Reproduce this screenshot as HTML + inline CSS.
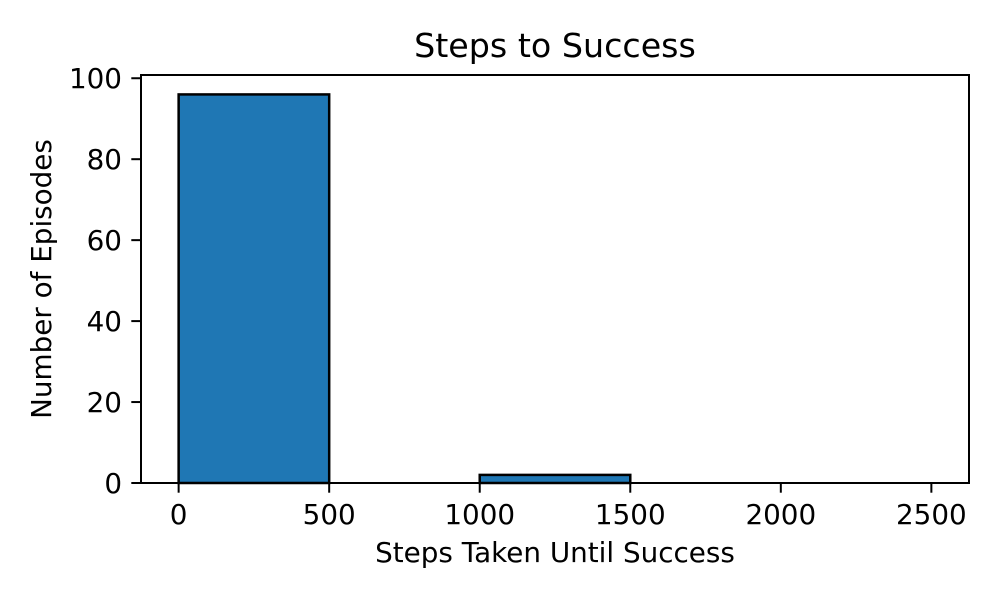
<!DOCTYPE html>
<html><head><meta charset="utf-8"><style>
html,body{margin:0;padding:0;background:#fff;}
svg text{font-family:"DejaVu Sans","Liberation Sans",sans-serif;fill:#000;}
</style></head><body>
<svg id="chart" width="1000" height="600" viewBox="0 0 1000 600" xmlns="http://www.w3.org/2000/svg">
<rect width="1000" height="600" fill="#fff"/>
<text x="555" y="57" font-size="33.3" text-anchor="middle">Steps to Success</text>
<text x="555" y="562" font-size="27.8" text-anchor="middle">Steps Taken Until Success</text>
<text x="0" y="0" font-size="27.8" text-anchor="middle" transform="translate(51,279) rotate(-90)">Number of Episodes</text>
<g id="bars"></g>
<g id="ticks"></g>
<rect x="141" y="75" width="828" height="408" fill="none" stroke="#000" stroke-width="2"/>
</svg>
<script>
const binEdges = [0, 500, 1000, 1500, 2000, 2500];
const counts = [96, 0, 2, 0, 0];
const xTicks = [0, 500, 1000, 1500, 2000, 2500];
const yTicks = [0, 20, 40, 60, 80, 100];

const L = 141, R = 969, T = 75, B = 483;
const xMin = -125, xMax = 2625;
const yMin = 0, yMax = 100.8;
const xs = v => L + (v - xMin) / (xMax - xMin) * (R - L);
const ys = v => B - (v - yMin) / (yMax - yMin) * (B - T);
const NS = 'http://www.w3.org/2000/svg';
const bars = document.getElementById('bars');
const ticks = document.getElementById('ticks');

counts.forEach((c, i) => {
  const r = document.createElementNS(NS, 'rect');
  
  
  const x0 = xs(binEdges[i]), x1 = xs(binEdges[i + 1]);
  r.setAttribute('x', x0); r.setAttribute('width', x1 - x0);
  r.setAttribute('y', ys(c)); r.setAttribute('height', ys(0) - ys(c));
  r.setAttribute('fill', '#1f77b4'); r.setAttribute('stroke', '#000'); r.setAttribute('stroke-width', '2.5');
  bars.appendChild(r);
});

xTicks.forEach(t => {
  const x = xs(t);
  const l = document.createElementNS(NS, 'line');
  
  
  l.setAttribute('x1', x); l.setAttribute('x2', x); l.setAttribute('y1', B); l.setAttribute('y2', B + 9.7);
  l.setAttribute('stroke', '#000'); l.setAttribute('stroke-width', '2');
  ticks.appendChild(l);
  const tx = document.createElementNS(NS, 'text');
  
  
  tx.setAttribute('x', x); tx.setAttribute('y', 524);
  tx.setAttribute('font-size', '27.8'); tx.setAttribute('text-anchor', 'middle');
  tx.textContent = t;
  ticks.appendChild(tx);
});

yTicks.forEach(t => {
  const y = ys(t);
  const l = document.createElementNS(NS, 'line');
  
  
  l.setAttribute('x1', L - 9.7); l.setAttribute('x2', L); l.setAttribute('y1', y); l.setAttribute('y2', y);
  l.setAttribute('stroke', '#000'); l.setAttribute('stroke-width', '2');
  ticks.appendChild(l);
  const tx = document.createElementNS(NS, 'text');
  
  
  tx.setAttribute('x', L - 19); tx.setAttribute('y', y + 10);
  tx.setAttribute('font-size', '27.8'); tx.setAttribute('text-anchor', 'end');
  tx.textContent = t;
  ticks.appendChild(tx);
});
</script>
</body></html>
